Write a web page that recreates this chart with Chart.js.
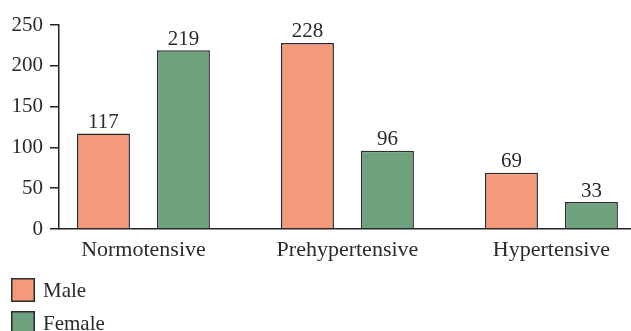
<!DOCTYPE html>
<html>
<head>
<meta charset="utf-8">
<script src="https://cdn.jsdelivr.net/npm/chart.js@4/dist/chart.umd.min.js"></script>
<style>
  html, body { margin: 0; padding: 0; background: #fff; }
  #wrap { width: 631px; height: 331px; position: relative; }
</style>
</head>
<body>
<div id="wrap"><canvas id="c" width="631" height="331"></canvas></div>
<script>
// Blood-pressure status counts by sex
const categories = ['Normotensive', 'Prehypertensive', 'Hypertensive'];
const maleCounts = [117, 228, 69];
const femaleCounts = [219, 96, 33];
const yTicks = [0, 50, 100, 150, 200, 250];

const FONT = '"Liberation Serif", "Times New Roman", serif';
const TEXT = '#2a2a2a';

const toPoints = arr => arr.map((v, i) => ({ x: i, y: v }));

// Count written above each bar
const valueLabels = {
  id: 'valueLabels',
  afterDatasetsDraw(chart) {
    const ctx = chart.ctx;
    ctx.save();
    ctx.font = '21px ' + FONT;
    ctx.fillStyle = TEXT;
    ctx.textAlign = 'center';
    ctx.textBaseline = 'alphabetic';
    chart.data.datasets.forEach((ds, di) => {
      chart.getDatasetMeta(di).data.forEach((bar, i) => {
        ctx.fillText(String(ds.data[i].y), bar.x, bar.y - 5.5);
      });
    });
    ctx.restore();
  }
};

// Legend stacked one entry per row under the axis
const stackedLegend = {
  id: 'stackedLegend',
  afterDraw(chart) {
    const ctx = chart.ctx;
    ctx.save();
    ctx.font = '21px ' + FONT;
    ctx.textBaseline = 'middle';
    ctx.textAlign = 'left';
    chart.data.datasets.forEach((ds, i) => {
      const top = 278 + i * 33;
      ctx.fillStyle = ds.backgroundColor;
      ctx.fillRect(11, top, 24, 24);
      ctx.strokeStyle = ds.borderColor;
      ctx.lineWidth = 1.5;
      ctx.strokeRect(11.75, top + 0.75, 22.5, 22.5);
      ctx.fillStyle = TEXT;
      ctx.fillText(ds.label, 43, top + 13);
    });
    ctx.restore();
  }
};

new Chart(document.getElementById('c'), {
  type: 'bar',
  data: {
    datasets: [
      {
        label: 'Male',
        data: toPoints(maleCounts),
        backgroundColor: '#f4997a',
        borderColor: '#2b2b2b',
        borderWidth: 1.5,
        categoryPercentage: 0.784,
        barPercentage: 0.6625
      },
      {
        label: 'Female',
        data: toPoints(femaleCounts),
        backgroundColor: '#6ea17e',
        borderColor: '#2b2b2b',
        borderWidth: 1.5,
        categoryPercentage: 0.784,
        barPercentage: 0.6625
      }
    ]
  },
  options: {
    responsive: false,
    animation: false,
    layout: { padding: { left: 0, right: 0, top: 25, bottom: 70 } },
    plugins: {
      legend: { display: false },
      tooltip: { enabled: false }
    },
    scales: {
      x: {
        type: 'linear',
        offset: false,
        min: -0.414,
        max: 2.39,
        afterBuildTicks: axis => { axis.ticks = categories.map((_, i) => ({ value: i })); },
        afterFit: axis => { axis.height = 32; },
        grid: { display: false, drawTicks: false, offset: false },
        border: { display: true, color: '#222', width: 1.5 },
        ticks: {
          padding: 8,
          color: TEXT,
          font: { family: FONT, size: 22 },
          maxRotation: 0,
          autoSkip: false,
          callback: v => categories[v] ?? ''
        }
      },
      y: {
        min: 0,
        max: 250,
        afterBuildTicks: axis => { axis.ticks = yTicks.map(v => ({ value: v })); },
        afterFit: axis => { axis.width = 59; },
        grid: { drawOnChartArea: false, drawTicks: true, tickLength: 9, color: '#222', lineWidth: 1.5 },
        border: { display: true, color: '#222', width: 1.5 },
        ticks: {
          padding: 7,
          color: TEXT,
          font: { family: FONT, size: 21 }
        }
      }
    }
  },
  plugins: [valueLabels, stackedLegend]
});
</script>
</body>
</html>
